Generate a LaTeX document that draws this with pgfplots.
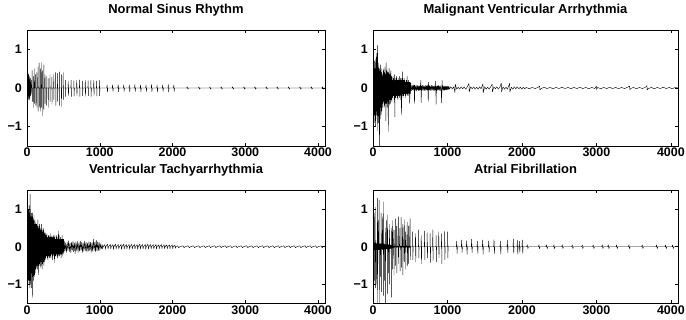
\documentclass[border=0pt]{standalone}
\usepackage{fontspec}
\setmainfont{Liberation Sans}
\usepackage{pgfplots}
\pgfplotsset{compat=1.18}
\pgfplotsset{
  sigaxis/.style={scale only axis, xmin=0, xmax=4096, ymin=-1.5, ymax=1.5,
    xtick={0,1000,2000,3000,4000}, xticklabels={0,1000,2000,3000,4000},
    ytick={-1,0,1}, yticklabels={−1,0,1},
    tick align=inside, xtick pos=both, ytick pos=both, major tick length=3bp,
    axis line style={line width=0.6bp, black},
    tick style={line width=0.5bp, black},
    ticklabel style={font=\bfseries\fontsize{12.5}{12.5}\selectfont},
    xticklabel style={anchor=base, yshift=-11bp, inner sep=0pt},
    yticklabel style={inner sep=0pt, xshift=-5bp},
    title style={font=\bfseries\fontsize{13}{13}\selectfont, at={(0.5,1)}, anchor=base, yshift=11bp, inner sep=0pt},
  },
  sig/.style={black, line width=0.4bp, line join=round, mark=none},
}
\begin{document}
\begin{tikzpicture}
\useasboundingbox (0,0) rectangle (686bp,320bp);
% ---------------- Normal Sinus Rhythm
\begin{axis}[sigaxis, at={(27bp,174bp)}, anchor=south west, width=298bp, height=116bp, title={Normal Sinus Rhythm}]
\addplot[sig] coordinates {
(0,0)(2,0.15)(4,-0.2)(6,0.3)(8,-0.15)(10,0.25)(12,-0.25)(14,0.4)(16,-0.2)(18,0.2)(20,-0.3)(22,0.35)(24,-0.15)(26,0.28)(28,-0.22)(30,0.18)(32,-0.3)(34,0.3)(36,-0.1)(38,0.22)(40,-0.25)(42,0.12)(44,-0.18)(46,0.25)(48,-0.12)(50,0.15)(52,-0.2)(54,0.1)(56,-0.15)(58,0.2)(60,-0.1)(62,0.08)(64,0)
(70,0)(71,0.45)(73,-0.35)(74,0)
(86,0)(87,0.3)(89,-0.5)(90,0)
(102,0)(103,0.5)(105,-0.4)(106,0)
(118,0)(119,0.35)(121,-0.45)(122,0)
(134,0)(135,0.4)(137,-0.5)(138,0)
(150,0)(151,0.55)(153,-0.6)(154,0)
(166,0)(167,0.65)(169,-0.5)(170,0)
(182,0)(183,0.5)(185,-0.6)(186,0)
(198,0)(199,0.66)(201,-0.5)(202,0)
(214,0)(215,0.45)(217,-0.72)(218,0)
(230,0)(231,0.6)(233,-0.55)(234,0)
(246,0)(247,0.35)(249,-0.4)(250,0)
(262,0)(264,0.3)(266,-0.45)(268,0)
(288,0)(290,0.25)(292,-0.5)(294,0)
(314,0)(316,0.35)(318,-0.35)(320,0)
(340,0)(342,0.28)(344,-0.42)(346,0)
(366,0)(368,0.35)(370,-0.3)(372,0)
(392,0)(394,0.4)(396,-0.45)(398,0)
(418,0)(420,0.38)(422,-0.35)(424,0)
(444,0)(446,0.42)(448,-0.45)(450,0)
(470,0)(472,0.35)(474,-0.48)(476,0)
(496,0)(498,0.4)(500,-0.3)(502,0)
(525,0)(528,0.2)(531,-0.22)(534,0)
(564,0)(567,0.18)(570,-0.2)(573,0)
(603,0)(606,0.2)(609,-0.22)(612,0)
(642,0)(645,0.19)(648,-0.21)(651,0)
(681,0)(684,0.2)(687,-0.2)(690,0)
(720,0)(723,0.21)(726,-0.22)(729,0)
(759,0)(762,0.18)(765,-0.2)(768,0)
(798,0)(801,0.2)(804,-0.21)(807,0)
(837,0)(840,0.19)(843,-0.2)(846,0)
(876,0)(879,0.2)(882,-0.22)(885,0)
(915,0)(918,0.2)(921,-0.2)(924,0)
(954,0)(957,0.18)(960,-0.21)(963,0)
(993,0)(996,0.2)(999,-0.2)(1002,0)
(1096,0)(1101,0.08)(1106,-0.1)(1111,0)
(1172,0)(1177,0.08)(1182,-0.09)(1187,0)
(1249,0)(1254,0.09)(1259,-0.1)(1264,0)
(1325,0)(1330,0.08)(1335,-0.09)(1340,0)
(1402,0)(1407,0.08)(1412,-0.1)(1417,0)
(1478,0)(1483,0.09)(1488,-0.09)(1493,0)
(1555,0)(1560,0.08)(1565,-0.1)(1570,0)
(1631,0)(1636,0.08)(1641,-0.09)(1646,0)
(1707,0)(1712,0.09)(1717,-0.1)(1722,0)
(1784,0)(1789,0.08)(1794,-0.1)(1799,0)
(1860,0)(1865,0.08)(1870,-0.09)(1875,0)
(1937,0)(1942,0.09)(1947,-0.1)(1952,0)
(2013,0)(2018,0.08)(2023,-0.09)(2028,0)
(2195,0)(2203,0.03)(2211,-0.03)(2219,0)
(2356,0)(2364,0.03)(2372,-0.03)(2380,0)
(2507,0)(2515,0.03)(2523,-0.03)(2531,0)
(2663,0)(2671,0.03)(2679,-0.03)(2687,0)
(2819,0)(2827,0.03)(2835,-0.03)(2843,0)
(2975,0)(2983,0.03)(2991,-0.03)(2999,0)
(3126,0)(3134,0.03)(3142,-0.03)(3150,0)
(3282,0)(3290,0.03)(3298,-0.03)(3306,0)
(3433,0)(3441,0.03)(3449,-0.03)(3457,0)
(3589,0)(3597,0.03)(3605,-0.03)(3613,0)
(3745,0)(3753,0.03)(3761,-0.03)(3769,0)
(3901,0)(3909,0.03)(3917,-0.03)(3925,0)
(4056,0)(4064,0.03)(4072,-0.03)(4080,0)(4096,0)
};
\end{axis}
% ---------------- Malignant Ventricular Arrhythmia
\begin{axis}[sigaxis, at={(373bp,174bp)}, anchor=south west, width=305bp, height=116bp, title={Malignant Ventricular Arrhythmia}]
\addplot[sig] coordinates {
(0,0)(3,0.4)(6,-0.5)(9,0.3)(12,-0.6)(15,0.5)(18,-0.7)(21,0.7)(24,-0.9)(27,0.6)(30,-0.8)(33,0.75)(36,-1.0)(39,0.5)(42,-0.7)(45,0.8)(48,-0.6)(51,0.9)(54,-0.8)(57,0.6)(60,-1.1)(63,1.1)(66,-0.7)(69,0.65)(72,-0.9)(75,0.5)(78,-0.6)(81,0.55)(84,-1.2)(87,0.4)(90,-1.6)(93,0.5)(96,-0.8)(99,0.6)(102,-0.5)(105,0.45)(108,-0.7)(111,0.5)(114,-0.45)(117,0.4)(120,-0.6)(123,0.35)(126,-0.5)
(129,0.3)(133,-0.4)(137,0.45)(141,-0.35)(145,0.5)(149,-0.5)(153,0.4)(157,-0.45)(161,0.55)(165,-0.4)(169,0.35)(173,-0.85)(177,0.65)(181,-0.4)(185,0.45)(189,-0.5)(193,0.4)(197,-0.35)(201,0.5)(205,-1.12)(209,0.4)(213,-0.4)(217,0.35)(221,-0.45)(225,0.5)(229,-0.3)(233,0.35)(237,-0.4)(241,0.45)(245,-0.3)(249,0.3)(253,-0.35)
(258,0.2)(263,-0.25)(268,0.3)(273,-0.2)(278,0.25)(283,-0.3)(288,0.35)(293,-0.75)(298,0.2)(303,-0.25)(308,0.25)(313,-0.2)(318,0.3)(323,-0.25)(328,0.2)(333,-0.3)(338,0.25)(343,-0.2)(348,0.2)(353,-0.25)(358,0.3)(363,-0.2)(368,0.25)(373,-0.3)(378,0.2)(383,-0.7)(388,0.25)(393,-0.2)(398,0.42)(403,-0.25)(408,0.2)(413,-0.2)(418,0.25)(423,-0.15)(428,0.2)(433,-0.25)(438,0.15)(443,-0.2)(448,0.2)(453,-0.15)(458,0.3)(463,-0.2)(468,0.15)(473,-0.2)(478,0.2)(483,-0.15)(488,0.15)(493,-0.4)(498,0.15)(503,-0.15)(508,0.12)
(512,0.05)(519,-0.07)(526,0.06)(533,-0.05)(540,0.08)(547,-0.06)(552,0.08)(557,-0.4)(562,0.07)(569,-0.06)(576,0.05)(583,-0.08)(590,0.07)(597,-0.05)(604,0.06)(611,-0.07)(618,0.05)(625,-0.06)(632,0.07)(637,-0.05)(642,0.2)(647,-0.38)(652,0.05)(659,-0.06)(666,0.07)(673,-0.05)(680,0.06)(687,-0.07)(694,0.05)(701,-0.06)(708,0.07)(715,-0.05)(722,0.06)(729,-0.06)(736,0.08)(742,-0.35)(747,0.15)(752,-0.05)(759,0.06)(766,-0.07)(773,0.05)(780,-0.06)(787,0.07)(794,-0.05)(801,0.06)(808,-0.06)(815,0.05)(822,-0.07)(829,0.06)(836,-0.05)(842,0.18)(847,-0.42)(852,0.05)(859,-0.07)(866,0.06)(873,-0.05)(880,0.07)(887,-0.06)(894,0.05)(901,-0.06)(908,0.05)(915,-0.05)(922,-0.38)(927,0.2)(932,-0.05)(939,0.06)(946,-0.06)(953,0.05)(960,-0.06)(967,0.05)(974,-0.05)(981,0.05)(988,-0.05)(995,0.05)(1002,-0.05)(1009,0.05)(1016,-0.04)(1022,0.04)
(1024,-0.03)(1044,0.03)(1064,-0.02)(1084,0.03)(1101,-0.12)(1104,0.1)(1124,-0.03)(1144,0.02)(1164,-0.03)(1184,0.03)(1204,-0.02)(1224,0.03)(1244,-0.03)(1264,0.02)(1289,0.12)(1292,-0.1)(1312,0.03)(1332,-0.02)(1352,0.03)(1372,-0.03)(1392,0.02)(1412,-0.03)(1432,0.03)(1452,-0.02)(1477,0.11)(1480,-0.12)(1500,0.03)(1520,-0.03)(1540,0.02)(1560,-0.03)(1580,0.03)(1600,0.1)(1603,-0.1)(1623,0.03)(1643,-0.02)(1663,0.03)(1683,-0.03)(1703,0.02)(1723,0.12)(1726,-0.1)(1746,0.03)(1766,-0.03)(1786,0.02)(1806,-0.03)(1835,0.12)(1838,-0.1)(1858,0.02)(1878,-0.03)(1898,0.03)(1918,-0.02)(1938,0.03)(1958,-0.02)(1978,0.02)(1998,-0.03)(2018,0.02)(2038,-0.02)
(2058,0.015)(2098,-0.02)(2138,0.015)(2178,-0.015)(2218,0.02)(2238,0.05)(2241,-0.05)(2258,-0.015)(2298,0.02)(2338,-0.015)(2378,0.015)(2418,-0.02)(2458,0.015)(2498,-0.015)(2538,0.02)(2578,-0.015)(2618,0.015)(2658,-0.02)(2698,0.015)(2738,-0.015)(2778,0.02)(2818,-0.015)(2858,0.015)(2898,-0.02)(2938,0.015)(2978,-0.015)(2999,0.05)(3002,-0.04)(3018,0.015)(3058,-0.02)(3098,0.015)(3138,-0.015)(3178,0.02)(3218,-0.015)(3258,0.015)(3298,-0.02)(3338,0.015)(3378,-0.015)(3418,0.02)(3446,0.05)(3449,-0.05)(3458,-0.015)(3498,0.015)(3538,-0.02)(3578,0.015)(3618,-0.015)(3658,0.02)(3679,0.06)(3682,-0.05)(3698,-0.015)(3738,0.015)(3778,-0.02)(3818,0.015)(3858,-0.015)(3898,0.02)(3938,-0.015)(3978,0.015)(4018,-0.02)(4058,0.015)(4096,0)
};
\end{axis}
% ---------------- Ventricular Tachyarrhythmia
\begin{axis}[sigaxis, at={(27bp,17bp)}, anchor=south west, width=298bp, height=112.5bp, title={Ventricular Tachyarrhythmia}]
\addplot[sig] coordinates {
(0,0.2)(3,-0.6)(6,0.9)(9,-1.1)(12,0.8)(15,-0.9)(18,1.0)(21,-0.8)(24,0.7)(27,-1.0)(30,1.1)(33,-0.9)(36,0.9)(39,-1.1)(42,1.4)(45,-0.8)(48,1.0)(51,-1.0)(54,0.8)(57,-0.7)(60,0.9)(63,-1.1)(66,0.8)(69,-0.9)(72,0.7)(75,-1.35)(78,0.9)(81,-0.8)(84,0.75)(87,-0.9)(90,0.7)(93,-0.7)(96,0.85)(99,-0.8)(102,0.6)(105,-0.75)(108,0.7)(111,-0.6)(114,0.65)(117,-0.7)(120,0.55)(123,-0.6)(126,0.6)
(129,-0.55)(133,0.6)(137,-0.5)(141,0.55)(145,-0.6)(149,0.72)(153,-0.5)(157,0.5)(161,-0.75)(165,0.55)(169,-0.45)(173,0.6)(177,-0.5)(181,0.45)(185,-0.55)(189,0.5)(193,-0.4)(197,0.6)(201,-0.5)(205,0.45)(209,-0.6)(213,0.4)(217,-0.45)(221,0.5)(225,-0.4)(229,0.45)(233,-0.5)(237,0.35)(241,-0.4)(245,0.4)(249,-0.35)(253,0.35)
(258,-0.3)(263,0.3)(268,-0.25)(273,0.35)(278,-0.3)(283,0.25)(288,-0.35)(293,0.3)(298,-0.25)(303,0.3)(308,-0.3)(313,0.25)(318,-0.25)(323,0.35)(328,-0.3)(333,0.25)(338,-0.2)(343,0.3)(348,-0.35)(353,0.25)(358,-0.25)(363,0.3)(368,-0.2)(373,0.25)(378,-0.42)(383,0.3)(388,-0.25)(393,0.2)(398,-0.25)(403,0.3)(408,-0.2)(413,0.25)(418,-0.3)(423,0.2)(428,-0.25)(433,0.42)(438,-0.2)(443,0.3)(448,-0.25)(453,0.2)(458,-0.2)(463,0.25)(468,-0.3)(473,0.2)(478,-0.2)(483,0.3)(488,-0.25)(493,0.2)(498,-0.2)(503,0.2)(508,-0.15)
(512,0.15)(522,-0.12)(532,0.1)(542,-0.15)(552,0.12)(562,-0.1)(572,0.16)(582,-0.13)(592,0.1)(602,-0.16)(612,0.12)(622,-0.1)(632,0.15)(642,-0.14)(652,0.1)(662,-0.18)(672,0.13)(682,-0.1)(692,0.14)(702,-0.15)(712,0.1)(722,-0.12)(732,0.16)(742,-0.1)(752,0.12)(762,-0.15)(772,0.1)(782,-0.12)(792,0.15)(802,-0.1)(812,0.12)(822,-0.14)(832,0.1)(842,-0.12)(852,0.14)(862,-0.1)(872,0.12)(882,-0.15)(892,0.1)(902,-0.12)(912,0.2)(922,-0.1)(932,0.12)(942,-0.13)(952,0.18)(962,-0.12)(972,0.13)(982,-0.1)(992,0.12)(1002,-0.1)(1012,0.08)(1022,-0.05)
(1030,0)(1034,0.06)(1040,-0.06)(1046,0)
(1071,0.06)(1077,-0.07)(1083,0)
(1108,0.07)(1114,-0.06)(1120,0)
(1145,0.06)(1151,-0.06)(1157,0)
(1182,0.06)(1188,-0.07)(1194,0)
(1219,0.07)(1225,-0.06)(1231,0)
(1256,0.06)(1262,-0.06)(1268,0)
(1293,0.06)(1299,-0.07)(1305,0)
(1330,0.07)(1336,-0.06)(1342,0)
(1367,0.06)(1373,-0.06)(1379,0)
(1404,0.06)(1410,-0.07)(1416,0)
(1441,0.07)(1447,-0.06)(1453,0)
(1478,0.06)(1484,-0.06)(1490,0)
(1515,0.06)(1521,-0.07)(1527,0)
(1552,0.07)(1558,-0.06)(1564,0)
(1589,0.06)(1595,-0.06)(1601,0)
(1626,0.06)(1632,-0.07)(1638,0)
(1663,0.07)(1669,-0.06)(1675,0)
(1700,0.06)(1706,-0.06)(1712,0)
(1737,0.06)(1743,-0.06)(1749,0)
(1774,0.06)(1780,-0.06)(1786,0)
(1811,0.05)(1817,-0.06)(1823,0)
(1848,0.06)(1854,-0.05)(1860,0)
(1885,0.05)(1891,-0.05)(1897,0)
(1922,0.05)(1928,-0.05)(1934,0)
(1959,0.05)(1965,-0.05)(1971,0)
(1996,0.05)(2002,-0.05)(2008,0)
(2033,0.04)(2039,-0.04)(2045,0)
(2070,0.025)(2085,-0.025)(2100,0)
(2143,0.025)(2158,-0.025)(2173,0)
(2216,0.025)(2231,-0.025)(2246,0)
(2289,0.025)(2304,-0.025)(2319,0)
(2362,0.025)(2377,-0.025)(2392,0)
(2435,0.025)(2450,-0.025)(2465,0)
(2508,0.025)(2523,-0.025)(2538,0)
(2581,0.025)(2596,-0.025)(2611,0)
(2654,0.025)(2669,-0.025)(2684,0)
(2727,0.025)(2742,-0.025)(2757,0)
(2800,0.025)(2815,-0.025)(2830,0)
(2873,0.025)(2888,-0.025)(2903,0)
(2946,0.025)(2961,-0.025)(2976,0)
(3019,0.025)(3034,-0.025)(3049,0)
(3092,0.025)(3107,-0.025)(3122,0)
(3165,0.025)(3180,-0.025)(3195,0)
(3238,0.025)(3253,-0.025)(3268,0)
(3311,0.025)(3326,-0.025)(3341,0)
(3384,0.025)(3399,-0.025)(3414,0)
(3457,0.025)(3472,-0.025)(3487,0)
(3530,0.025)(3545,-0.025)(3560,0)
(3603,0.025)(3618,-0.025)(3633,0)
(3676,0.025)(3691,-0.025)(3706,0)
(3749,0.025)(3764,-0.025)(3779,0)
(3822,0.025)(3837,-0.025)(3852,0)
(3895,0.025)(3910,-0.025)(3925,0)
(3968,0.025)(3983,-0.025)(3998,0)
(4041,0.025)(4056,-0.025)(4071,0)(4096,0)
};
\end{axis}
% ---------------- Atrial Fibrillation
\begin{axis}[sigaxis, at={(373bp,17bp)}, anchor=south west, width=305bp, height=112.5bp, title={Atrial Fibrillation}]
\addplot[sig] coordinates {
(0,0)(2,0.08)(4,-0.08)(6,0.1)
(8,1.2)(10,-1.6)(12,0.08)
(14,-0.06)(16,0.9)(18,-0.9)(20,0.08)(22,-0.08)(24,0.1)(26,-0.06)(28,0.08)
(30,1.05)(32,-1.1)(34,0.08)
(36,-0.08)(38,0.1)(40,-0.06)(42,0.08)(44,-1.0)(46,0.08)(48,-0.08)(50,0.08)(52,-0.06)(54,0.08)(56,-0.06)
(58,1.3)(60,-1.6)(62,0.08)
(64,-0.06)(67,0.08)(70,0.7)(72,-0.08)(74,0.08)(76,-0.06)(79,0.08)
(82,1.25)(84,-1.6)(86,0.08)
(89,-0.08)(92,0.08)(95,-0.06)(98,0.08)(100,-0.8)(102,0.08)(104,0.06)(107,-0.08)
(110,0.9)(112,-1.2)(114,0.08)
(117,-0.06)(120,0.08)(123,-0.06)(124,0.8)(126,-0.06)(129,-0.08)(132,0.06)(135,-0.06)
(138,1.2)(140,-1.3)(142,0.06)
(145,-0.06)(148,0.08)(151,-0.06)(152,-0.9)(154,0.06)(157,-0.06)(160,0.06)(163,-0.06)
(165,0.5)(167,-1.6)(169,0.06)
(172,-0.06)(175,0.06)(178,-0.06)(180,0.7)(182,-0.06)(184,-0.06)(187,0.06)(190,-0.06)(193,0.06)
(195,0.85)(197,-1.25)(199,0.06)
(202,-0.06)(205,0.06)(208,-0.05)(210,-0.7)(212,0.05)(214,-0.05)(217,0.05)(220,-0.05)
(222,0.6)(224,-1.0)(226,0.05)
(229,-0.05)(232,0.05)(235,-0.05)(238,0.04)(241,-0.04)(244,0.04)(246,-0.04)
(248,0.5)(250,-1.35)(252,0.04)
(255,-0.03)(258,0.02)
(262,0.7)(264,-0.6)(267,0.015)(272,-0.015)(276,0.01)
(280,0.45)(282,-0.75)(285,0.015)(290,-0.015)(294,0.01)
(301,0.75)(303,-0.5)(306,0.015)(311,-0.015)(315,0.01)
(318,0.55)(320,-0.7)(323,0.015)(328,-0.015)(332,0.01)
(340,0.8)(342,-0.45)(345,0.015)(350,-0.015)(354,0.01)
(362,0.5)(364,-0.65)(367,0.015)(372,-0.015)(376,0.01)
(378,0.78)(380,-0.55)(383,0.015)(388,-0.015)(392,0.01)
(400,0.6)(402,-0.75)(405,0.015)(410,-0.015)(414,0.01)
(420,0.72)(422,-0.4)(425,0.015)(430,-0.015)(434,0.01)
(438,0.4)(440,-0.6)(443,0.015)(448,-0.015)(452,0.01)
(460,0.65)(462,-0.5)(465,0.015)(470,-0.015)(474,0.01)
(476,0.55)(478,-0.45)(481,0.015)(486,-0.015)(490,0.01)
(498,0.75)(500,-0.35)(503,0.01)(508,-0.01)(512,0)
(530,0)(533,0.4)(536,-0.35)(539,0)
(568,0)(571,0.35)(574,-0.4)(577,0)
(610,0)(613,0.45)(616,-0.3)(619,0)
(645,0)(648,0.3)(651,-0.45)(654,0)
(690,0)(693,0.42)(696,-0.35)(699,0)
(725,0)(728,0.38)(731,-0.3)(734,0)
(765,0)(768,0.35)(771,-0.42)(774,0)
(800,0)(803,0.45)(806,-0.38)(809,0)
(845,0)(848,0.3)(851,-0.4)(854,0)
(880,0)(883,0.4)(886,-0.3)(889,0)
(918,0)(921,0.35)(924,-0.45)(927,0)
(960,0)(963,0.42)(966,-0.35)(969,0)
(1000,0)(1003,0.4)(1006,-0.3)(1009,0)
(1119,0)(1124,0.15)(1129,-0.18)(1134,0)
(1186,0)(1191,0.18)(1196,-0.15)(1201,0)
(1253,0)(1258,0.16)(1263,-0.2)(1268,0)
(1320,0)(1325,0.2)(1330,-0.16)(1335,0)
(1397,0)(1402,0.15)(1407,-0.18)(1412,0)
(1468,0)(1473,0.18)(1478,-0.2)(1483,0)
(1549,0)(1554,0.16)(1559,-0.15)(1564,0)
(1620,0)(1625,0.19)(1630,-0.18)(1635,0)
(1706,0)(1711,0.15)(1716,-0.2)(1721,0)
(1800,0)(1805,0.18)(1810,-0.16)(1815,0)
(1880,0)(1885,0.2)(1890,-0.18)(1895,0)
(1934,0)(1939,0.17)(1944,-0.2)(1949,0)
(1961,0)(1966,0.15)(1971,-0.15)(1976,0)
(2001,0)(2006,0.18)(2011,-0.18)(2016,0)
(2064,0)(2072,0.05)(2080,-0.05)(2088,0)
(2220,0)(2228,0.05)(2236,-0.05)(2244,0)
(2323,0)(2331,0.05)(2339,-0.05)(2347,0)
(2422,0)(2430,0.05)(2438,-0.05)(2446,0)
(2534,0)(2542,0.05)(2550,-0.05)(2558,0)
(2668,0)(2676,0.05)(2684,-0.05)(2692,0)
(2802,0)(2810,0.05)(2818,-0.05)(2826,0)
(2950,0)(2958,0.05)(2966,-0.05)(2974,0)
(3071,0)(3079,0.05)(3087,-0.05)(3095,0)
(3152,0)(3160,0.05)(3168,-0.05)(3176,0)
(3264,0)(3272,0.05)(3280,-0.05)(3288,0)
(3429,0)(3437,0.05)(3445,-0.05)(3453,0)
(3608,0)(3616,0.05)(3624,-0.05)(3632,0)
(3801,0)(3809,0.05)(3817,-0.05)(3825,0)
(3922,0)(3930,0.05)(3938,-0.05)(3946,0)
(4016,0)(4024,0.05)(4032,-0.05)(4040,0)(4096,0)
};
\end{axis}
\end{tikzpicture}
\end{document}
